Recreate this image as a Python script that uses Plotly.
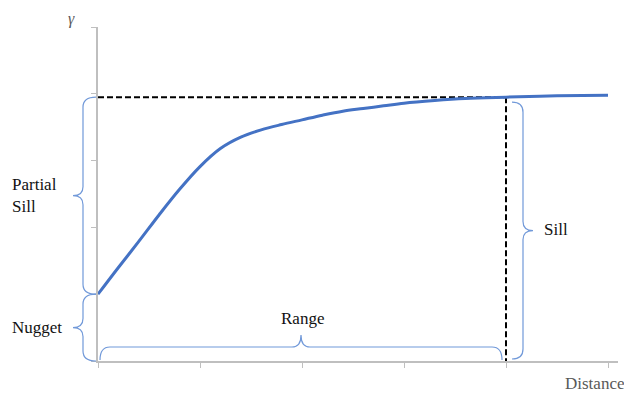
import plotly.graph_objects as go

# Semivariogram model values
distance = [0, 0.2, 0.4, 0.6, 0.8, 1.0, 1.2, 1.4, 1.6, 1.8, 2.0, 2.2, 2.4, 2.6, 2.8, 3.0, 3.3, 3.6, 4.0, 4.5, 5.0]
gamma = [1.00, 1.40, 1.79, 2.19, 2.57, 2.91, 3.18, 3.35, 3.46, 3.54, 3.61, 3.68, 3.74, 3.78, 3.82, 3.86, 3.90, 3.93, 3.95, 3.97, 3.98]

nugget = 1.0
sill = 3.95
vrange = 4.0
axis_ticks = [0, 1, 2, 3, 4, 5]

# Figure geometry
W, H = 624, 394
ML, MR, MT, MB = 98, 6, 27, 33
XMIN, XMAX = 0, 5.098
YMIN, YMAX = 0, 5
PW, PH = W - ML - MR, H - MT - MB
PPX = PW / (XMAX - XMIN)   # pixels per x unit
PPY = PH / (YMAX - YMIN)   # pixels per y unit


def dx(px):
    return px / PPX


def dy(px):
    return px / PPY


def px_(x):
    """Data x -> paper fraction (shapes/labels may sit outside the plot area)."""
    return (x - XMIN) / (XMAX - XMIN)


def py_(y):
    return (y - YMIN) / (YMAX - YMIN)


def pt(x, y):
    return f"{px_(x):.5f},{py_(y):.5f}"


def vbrace(xs, ya, yb, end_px, tip_px, d):
    """Vertical curly brace; ends curl toward +d, tip points toward -d."""
    ym = (ya + yb) / 2
    rx, ry = dx(end_px), dy(10)
    tx, ty = dx(tip_px), dy(9)
    return (f"M {pt(xs + d*rx, ya)} Q {pt(xs, ya)} {pt(xs, ya - ry)} "
            f"L {pt(xs, ym + ty)} Q {pt(xs, ym)} {pt(xs - d*tx, ym)} "
            f"Q {pt(xs, ym)} {pt(xs, ym - ty)} "
            f"L {pt(xs, yb + ry)} Q {pt(xs, yb)} {pt(xs + d*rx, yb)}")


def hbrace(ys, xa, xb, end_px, tip_px):
    """Horizontal curly brace; ends curl downward, tip points up."""
    xm = (xa + xb) / 2
    rx, ry = dx(10), dy(end_px)
    tx, ty = dx(9), dy(tip_px)
    return (f"M {pt(xa, ys - ry)} Q {pt(xa, ys)} {pt(xa + rx, ys)} "
            f"L {pt(xm - tx, ys)} Q {pt(xm, ys)} {pt(xm, ys + ty)} "
            f"Q {pt(xm, ys)} {pt(xm + tx, ys)} "
            f"L {pt(xb - rx, ys)} Q {pt(xb, ys)} {pt(xb, ys - ry)}")


brace_color = "#7199d9"
fig = go.Figure()

# Sill and range reference lines
fig.add_trace(go.Scatter(x=[0, vrange], y=[sill, sill], mode="lines",
                         line=dict(color="black", width=2, dash="6px,3px"),
                         hoverinfo="skip", cliponaxis=False))
fig.add_trace(go.Scatter(x=[vrange, vrange], y=[sill, 0], mode="lines",
                         line=dict(color="black", width=2, dash="6px,3px"),
                         hoverinfo="skip", cliponaxis=False))

# Variogram curve
fig.add_trace(go.Scatter(x=distance, y=gamma, mode="lines",
                         line=dict(color="#4472c4", width=3, shape="spline", smoothing=1.0),
                         hoverinfo="skip", cliponaxis=False))

spine_left = -dx(15)
brace_line = dict(color=brace_color, width=1.2)
shapes = [
    dict(type="path", xref="paper", yref="paper", layer="above",
         path=vbrace(spine_left, sill, nugget, 13, 10, 1), line=brace_line),
    dict(type="path", xref="paper", yref="paper", layer="above",
         path=vbrace(spine_left, nugget, 0, 13, 10, 1), line=brace_line),
    dict(type="path", xref="paper", yref="paper", layer="above",
         path=hbrace(dy(14), dx(2), vrange - dx(4), 13, 12), line=brace_line),
    dict(type="path", xref="paper", yref="paper", layer="above",
         path=vbrace(vrange + dx(17), sill - dy(5), dy(2), 11, 10, -1), line=brace_line),
]

serif = "Liberation Serif"
ann_font = dict(family=serif, size=17, color="#111111")


def label(x, y, text, xanchor="left", font=ann_font, align="left"):
    return dict(x=px_(x), y=py_(y), xref="paper", yref="paper", text=text,
                showarrow=False, xanchor=xanchor, yanchor="middle",
                align=align, font=font)


annotations = [
    label(-dx(88), (sill + nugget) / 2, "Partial<br>Sill"),
    label(-dx(88), nugget / 2, "Nugget"),
    label(vrange / 2, dy(43), "Range", xanchor="center"),
    label(vrange + dx(36), sill / 2, "Sill"),
    label(5 + dx(18), -dy(22), "Distance", xanchor="right",
          font=dict(family=serif, size=17, color="#595959")),
    label(-dx(27), YMAX + dy(8), "<i>γ</i>", xanchor="center",
          font=dict(family=serif, size=16, color="#595959")),
]

axis_common = dict(showline=True, linecolor="#bfbfbf", linewidth=1.5,
                   ticks="outside", ticklen=5, tickwidth=1, tickcolor="#bfbfbf",
                   showticklabels=False, showgrid=False, zeroline=False,
                   tickvals=axis_ticks, fixedrange=True)

fig.update_layout(
    width=W, height=H,
    margin=dict(l=ML, r=MR, t=MT, b=MB),
    paper_bgcolor="white", plot_bgcolor="white",
    showlegend=False,
    font=dict(family=serif),
    xaxis=dict(range=[XMIN, XMAX], **axis_common),
    yaxis=dict(range=[YMIN, YMAX], **axis_common),
    shapes=shapes,
    annotations=annotations,
)

fig.write_html("out.html")
